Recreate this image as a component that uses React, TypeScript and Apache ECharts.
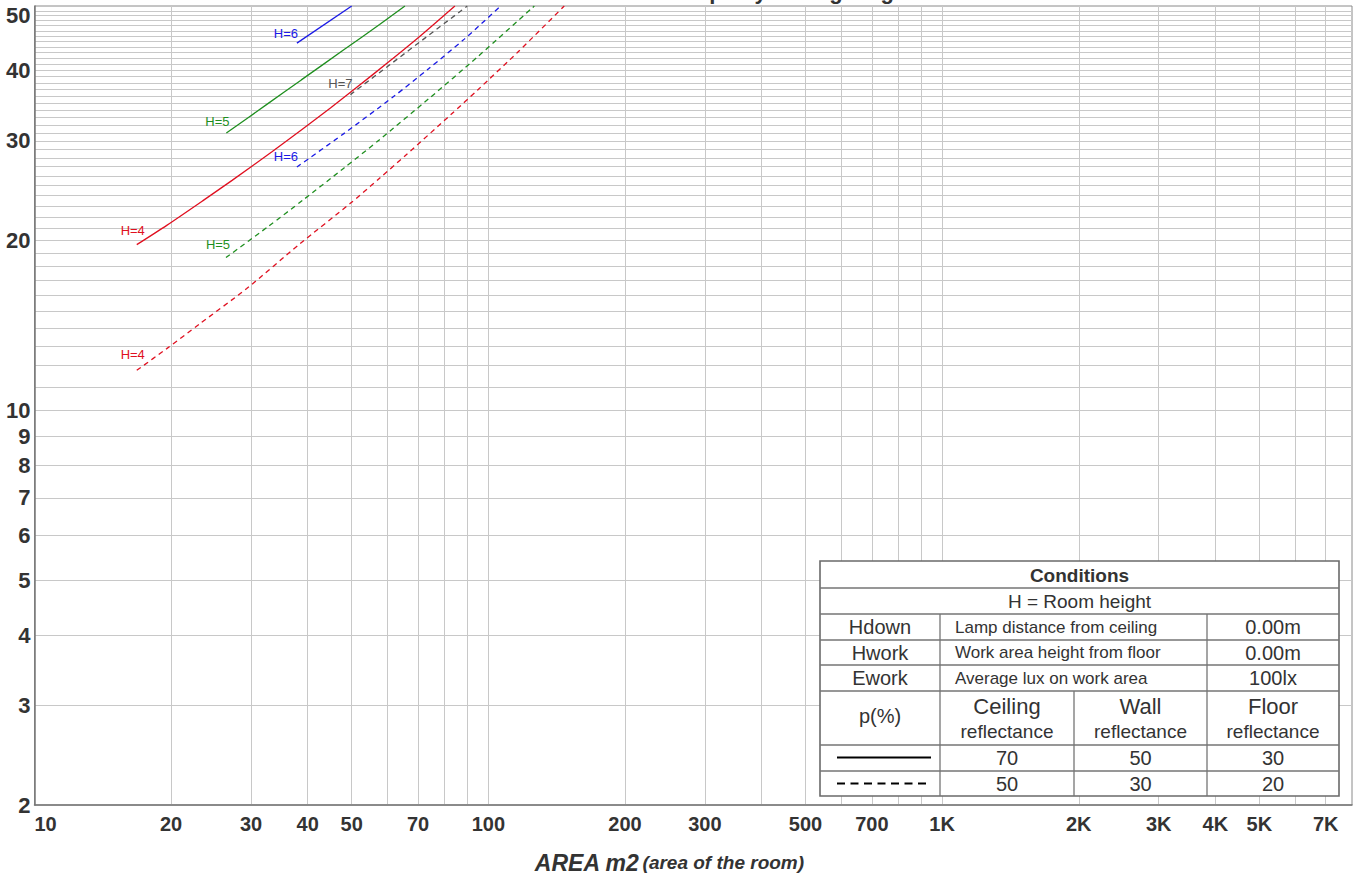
import React, { useEffect, useRef } from "react";
import * as echarts from "echarts";

// Axis ranges
const xMin = 10;
const xMax = 8000;
const yMin = 2;
const yMax = 52;

// Gridline values and tick labels
const xGridValues = [20, 30, 40, 50, 60, 70, 80, 90, 100, 200, 300, 400, 500, 600, 700, 800, 900, 1000, 2000, 3000, 4000, 5000, 6000, 7000];
const xLabelValues = [10, 20, 30, 40, 50, 70, 100, 200, 300, 500, 700, 1000, 2000, 3000, 4000, 5000, 7000];
const yGridValues = [3, 4, 5, 6, 7, 8, 9, 10, 11, 12, 13, 14, 15, 16, 17, 18, 19, 20, 21, 22, 23, 24, 25, 26, 27, 28, 29, 30, 31, 32, 33, 34, 35, 36, 37, 38, 39, 40, 41, 42, 43, 44, 45, 46, 47, 48, 49, 50, 51];
const yLabelValues = [2, 3, 4, 5, 6, 7, 8, 9, 10, 20, 30, 40, 50];

// Curves: x = area (m2), y = number of lamps
// Solid: reflectance 70/50/30
const areaH4Solid = [16.8, 19.56, 23.55, 27.25, 33.42, 38.72, 44.88, 51.39, 60.25, 70.59, 84.4];
const lampsH4Solid = [19.65, 21.26, 23.54, 25.54, 28.73, 31.37, 34.31, 37.36, 41.37, 45.92, 52];
const areaH5Solid = [26.47, 32.68, 38.72, 48.03, 57.59, 65.5];
const lampsH5Solid = [30.97, 34.92, 38.47, 43.49, 48.23, 52];
const areaH6Solid = [37.86, 50.0];
const lampsH6Solid = [44.7, 52];
// Dashed: reflectance 50/30/20
const areaH4Dashed = [16.8, 19.56, 23.15, 29.35, 38.47, 49.57, 57.59, 65.95, 82.7, 94.75, 116.2, 147];
const lampsH4Dashed = [11.77, 12.86, 14.24, 16.43, 19.73, 23.23, 25.76, 28.35, 33.4, 36.93, 43.1, 52];
const areaH5Dashed = [26.42, 32.68, 39.18, 48.03, 57.59, 73.86, 94.75, 126.3];
const lampsH5Dashed = [18.64, 21.14, 23.62, 26.84, 30.15, 35.61, 42.28, 52];
const areaH6Dashed = [37.86, 48.03, 61.64, 73.86, 88.52, 106.5];
const lampsH6Dashed = [26.97, 30.9, 35.87, 40.27, 45.43, 52];
const areaH7Dashed = [49.67, 89.9];
const lampsH7Dashed = [36.23, 52];

// Conditions table text
const condTitle = "Conditions";
const condSubtitle = "H = Room height";
const condRows = [
  ["Hdown", "Lamp distance from ceiling", "0.00m"],
  ["Hwork", "Work area height from floor", "0.00m"],
  ["Ework", "Average lux on work area", "100lx"],
];
const reflHeader = ["p(%)", "Ceiling", "Wall", "Floor"];
const reflSolid = ["70", "50", "30"];
const reflDashed = ["50", "30", "20"];

const RED = "#e01020";
const GREEN = "#1f8f1f";
const BLUE = "#1a1ae6";
const GRAY = "#555555";
const FONT = "Liberation Sans, Arial, sans-serif";

function curve(
  name: string,
  xs: number[],
  ys: number[],
  color: string,
  dashed: boolean,
  label: string,
  offset: number[]
) {
  return {
    type: "line",
    name,
    data: xs.map((x, i) => [x, ys[i]]),
    symbol: "none",
    showSymbol: false,
    silent: true,
    clip: true,
    smooth: 0.25,
    lineStyle: { color, width: 1.3, type: dashed ? [5, 4] : "solid" },
    itemStyle: { color },
    markPoint: {
      symbol: "circle",
      symbolSize: 1,
      silent: true,
      itemStyle: { color: "rgba(0,0,0,0)" },
      label: {
        show: true,
        position: "top",
        distance: 5,
        offset,
        formatter: label,
        color,
        fontSize: 13,
        fontFamily: FONT,
      },
      data: [{ coord: [xs[0], ys[0]] }],
    },
  };
}

function tableGraphics() {
  const L = 820, R = 1339, T = 561, B = 796;
  const rows = [588, 614, 640, 665, 691, 745, 771];
  const c1 = 940, c2 = 1074, c3 = 1207;
  const lineStyle = { stroke: "#757575", lineWidth: 1.3 };
  const txt = "#333";
  const Z = 100;
  const els: any[] = [];
  els.push({ type: "rect", z: Z, shape: { x: L, y: T, width: R - L, height: B - T }, style: { fill: "#fff", stroke: "#6a6a6a", lineWidth: 1.6 } });
  rows.forEach((y) => els.push({ type: "line", z: Z + 1, shape: { x1: L, y1: y, x2: R, y2: y }, style: lineStyle }));
  els.push({ type: "line", z: Z + 1, shape: { x1: c1, y1: 614, x2: c1, y2: B }, style: lineStyle });
  els.push({ type: "line", z: Z + 1, shape: { x1: c3, y1: 614, x2: c3, y2: B }, style: lineStyle });
  els.push({ type: "line", z: Z + 1, shape: { x1: c2, y1: 691, x2: c2, y2: B }, style: lineStyle });
  const t = (text: string, x: number, y: number, size: number, bold = false, align = "center") => ({
    type: "text",
    z: Z + 2,
    style: { text, x, y, align, verticalAlign: "middle", fontSize: size, fontWeight: bold ? "bold" : "normal", fontFamily: FONT, fill: txt },
  });
  const mid = (L + R) / 2;
  els.push(t(condTitle, mid, 575, 19, true));
  els.push(t(condSubtitle, mid, 601.5, 19));
  const rowY = [627, 652.5, 678];
  condRows.forEach((r, i) => {
    els.push(t(r[0], (L + c1) / 2, rowY[i], 20));
    els.push(t(r[1], 955, rowY[i], 17, false, "left"));
    els.push(t(r[2], (c3 + R) / 2, rowY[i], 20));
  });
  els.push(t(reflHeader[0], (L + c1) / 2, 716, 20));
  const colC = [(c1 + c2) / 2, (c2 + c3) / 2, (c3 + R) / 2];
  for (let i = 0; i < 3; i++) {
    els.push(t(reflHeader[i + 1], colC[i], 706, 22));
    els.push(t("reflectance", colC[i], 731.5, 19));
    els.push(t(reflSolid[i], colC[i], 758, 20));
    els.push(t(reflDashed[i], colC[i], 783.5, 20));
  }
  els.push({ type: "line", z: Z + 2, shape: { x1: 837, y1: 757.5, x2: 931, y2: 757.5 }, style: { stroke: "#000", lineWidth: 2 } });
  els.push({ type: "line", z: Z + 2, shape: { x1: 837, y1: 783.5, x2: 931, y2: 783.5 }, style: { stroke: "#000", lineWidth: 2, lineDash: [8, 5.5] } });
  return els;
}

export default function App() {
  const ref = useRef<HTMLDivElement>(null);
  useEffect(() => {
    if (!ref.current) return;
    const chart = echarts.init(ref.current, null, { renderer: "svg" });
    const fmtX = (v: number) => (v >= 1000 ? `${Math.round(v / 1000)}K` : `${Math.round(v)}`);
    chart.setOption({
      animation: false,
      backgroundColor: "#ffffff",
      grid: {
        left: 34.5,
        right: 15,
        top: 6,
        bottom: 69,
        show: true,
        borderColor: "#8a8a8a",
        borderWidth: 1,
        containLabel: false,
        outerBoundsMode: "none",
      },
      xAxis: {
        type: "log",
        logBase: 10,
        min: xMin,
        max: xMax,
        axisLine: { show: true, lineStyle: { color: "#777", width: 1.5 } },
        axisTick: { show: false, customValues: xGridValues },
        splitLine: { show: true, lineStyle: { color: "#c8c8c8", width: 1 } },
        minorSplitLine: { show: false },
        axisLabel: {
          customValues: xLabelValues,
          formatter: fmtX,
          fontSize: 20,
          fontWeight: "bold",
          fontFamily: FONT,
          color: "#333",
          margin: 9,
          alignMinLabel: "left",
        },
        name: "{a|AREA m2} {b|(area of the room)}",
        nameLocation: "middle",
        nameGap: 46,
        nameTextStyle: {
          padding: [0, 48, 0, 0],
          rich: {
            a: { fontSize: 23, fontWeight: "bold", fontStyle: "italic", fontFamily: FONT, color: "#333" },
            b: { fontSize: 19, fontWeight: "bold", fontStyle: "italic", fontFamily: FONT, color: "#333" },
          },
        },
      },
      yAxis: {
        type: "log",
        logBase: 10,
        min: yMin,
        max: yMax,
        axisLine: { show: true, lineStyle: { color: "#777", width: 1.5 } },
        axisTick: { show: false, customValues: yGridValues },
        splitLine: { show: true, lineStyle: { color: "#c8c8c8", width: 1 } },
        minorSplitLine: { show: false },
        axisLabel: {
          customValues: yLabelValues,
          formatter: (v: number) => `${Math.round(v)}`,
          fontSize: 22,
          fontWeight: "bold",
          fontFamily: FONT,
          color: "#333",
          margin: 4,
        },
      },
      series: [
        curve("H=4 (70/50/30)", areaH4Solid, lampsH4Solid, RED, false, "H=4", [-4, -2]),
        curve("H=5 (70/50/30)", areaH5Solid, lampsH5Solid, GREEN, false, "H=5", [-9, 0]),
        curve("H=6 (70/50/30)", areaH6Solid, lampsH6Solid, BLUE, false, "H=6", [-11, 2]),
        curve("H=4 (50/30/20)", areaH4Dashed, lampsH4Dashed, RED, true, "H=4", [-4, -4]),
        curve("H=5 (50/30/20)", areaH5Dashed, lampsH5Dashed, GREEN, true, "H=5", [-8, -1]),
        curve("H=6 (50/30/20)", areaH6Dashed, lampsH6Dashed, BLUE, true, "H=6", [-11, 1]),
        curve("H=7 (50/30/20)", areaH7Dashed, lampsH7Dashed, GRAY, true, "H=7", [-10, 1]),
      ],
      graphic: [
        {
          type: "text",
          silent: true,
          style: { text: "Number of lamps by ceiling height", x: 735, y: 2, align: "center", verticalAlign: "bottom", fontSize: 22, fontWeight: "bold", fontFamily: FONT, fill: "#333" },
        },
        ...tableGraphics(),
      ],
    });
    return () => chart.dispose();
  }, []);
  return <div ref={ref} style={{ position: "absolute", left: 0, top: 0, width: 1367, height: 874 }} />;
}
